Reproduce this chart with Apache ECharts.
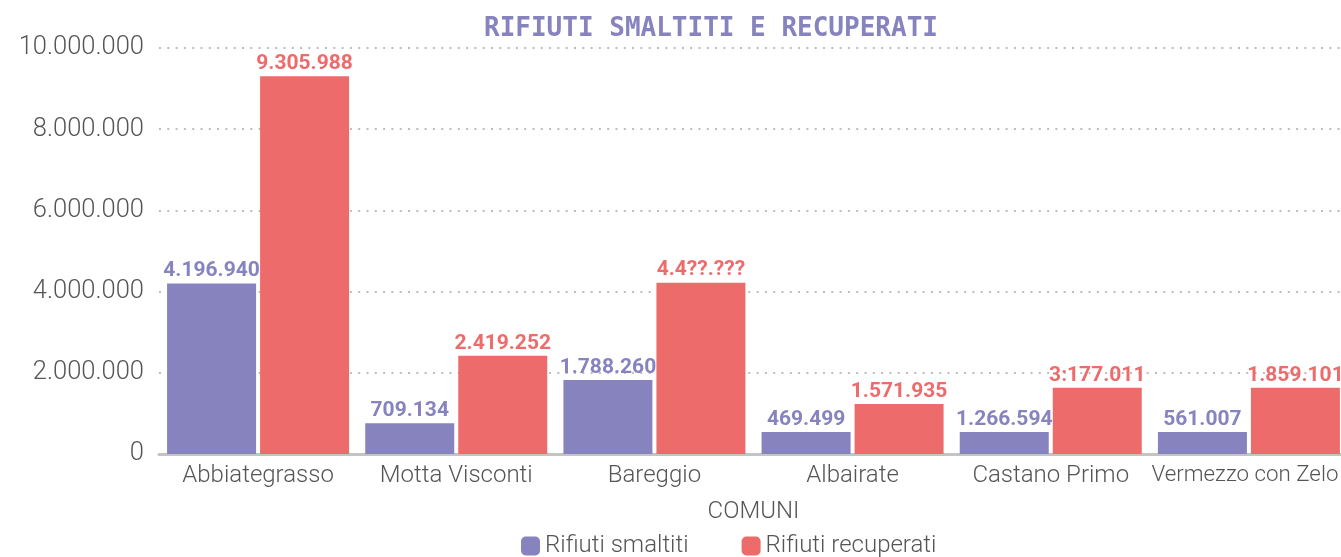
<!DOCTYPE html>
<html>
<head>
<meta charset="utf-8">
<script src="https://cdn.jsdelivr.net/npm/echarts@6/dist/echarts.min.js"></script>
<style>html,body{margin:0;padding:0;background:#fff}#c{width:1341px;height:557px}</style>
</head>
<body>
<div id="c"></div>
<script>
const categories = ['Abbiategrasso', 'Motta Visconti', 'Bareggio', 'Albairate', 'Castano Primo', 'Vermezzo con Zelo'];
const smaltiti = [4196940, 760000, 1820000, 540000, 540000, 540000];
const recuperati = [9305988, 2419252, 4220000, 1230000, 1630000, 1630000];
const labelsSmaltiti = ['4.196.940', '709.134', '1.788.260', '469.499', '1.266.594', '561.007'];
const labelsRecuperati = ['9.305.988', '2.419.252', '4.4??.???', '1.571.935', '3:177.011', '1.859.101'];
const seriesNames = ['Rifiuti smaltiti', 'Rifiuti recuperati'];
const colors = ['#8783be', '#ee6b6b'];

function fmt(v) { return String(v).replace(/\B(?=(\d{3})+(?!\d))/g, '.'); }

// last category label is nudged left / tightened so it fits inside the canvas, as in the reference
const categoryData = categories.map((c, i) => i === categories.length - 1
  ? { value: c, textStyle: { padding: [0, 8, 0, 0], fontSize: 22.3 } }
  : { value: c });

const chart = echarts.init(document.getElementById('c'));
chart.setOption({
  animation: false,
  color: colors,
  textStyle: { fontFamily: 'Roboto' },
  title: {
    text: 'RIFIUTI SMALTITI E RECUPERATI',
    left: 479, top: 11,
    textStyle: { fontFamily: 'DejaVu Sans Mono', fontWeight: 'bold', fontSize: 26, color: '#8783be' }
  },
  legend: {
    bottom: -6, left: 516,
    itemWidth: 19, itemHeight: 19, itemGap: 53,
    icon: 'roundRect',
    textStyle: { fontFamily: 'Roboto', fontWeight: 300, fontSize: 24, color: '#555' },
    data: seriesNames
  },
  grid: { left: 159, right: -7, top: 48, bottom: 103, containLabel: false, outerBoundsMode: 'none' },
  xAxis: {
    type: 'category', data: categoryData,
    name: 'COMUNI', nameLocation: 'middle', nameGap: 46,
    nameTextStyle: { fontFamily: 'Roboto', fontWeight: 300, fontSize: 24, color: '#555' },
    axisLine: { lineStyle: { color: '#c4c4c4', width: 3 } },
    axisTick: { show: false },
    axisLabel: { fontFamily: 'Roboto', fontWeight: 300, fontSize: 24, color: '#555', margin: 10, interval: 0 }
  },
  yAxis: {
    type: 'value', min: 0, max: 10000000, interval: 2000000,
    axisLine: { show: false },
    axisTick: { show: false },
    axisLabel: { fontFamily: 'Roboto', fontWeight: 300, fontSize: 25.5, color: '#555', margin: 15, formatter: v => fmt(v) },
    splitLine: { lineStyle: { color: '#bdbdbd', width: 2, type: [2, 6.3] } }
  },
  series: [
    {
      name: seriesNames[0], type: 'bar', data: smaltiti,
      barWidth: 89, barGap: '4.5%',
      itemStyle: { color: colors[0] },
      label: { show: true, position: 'top', distance: 2, color: colors[0], fontFamily: 'Roboto', fontWeight: 'bold', fontSize: 21,
        formatter: p => labelsSmaltiti[p.dataIndex] }
    },
    {
      name: seriesNames[1], type: 'bar', data: recuperati,
      barWidth: 89, barGap: '4.5%',
      itemStyle: { color: colors[1] },
      label: { show: true, position: 'top', distance: 2, color: colors[1], fontFamily: 'Roboto', fontWeight: 'bold', fontSize: 21,
        formatter: p => labelsRecuperati[p.dataIndex] }
    }
  ]
});
</script>
</body>
</html>
